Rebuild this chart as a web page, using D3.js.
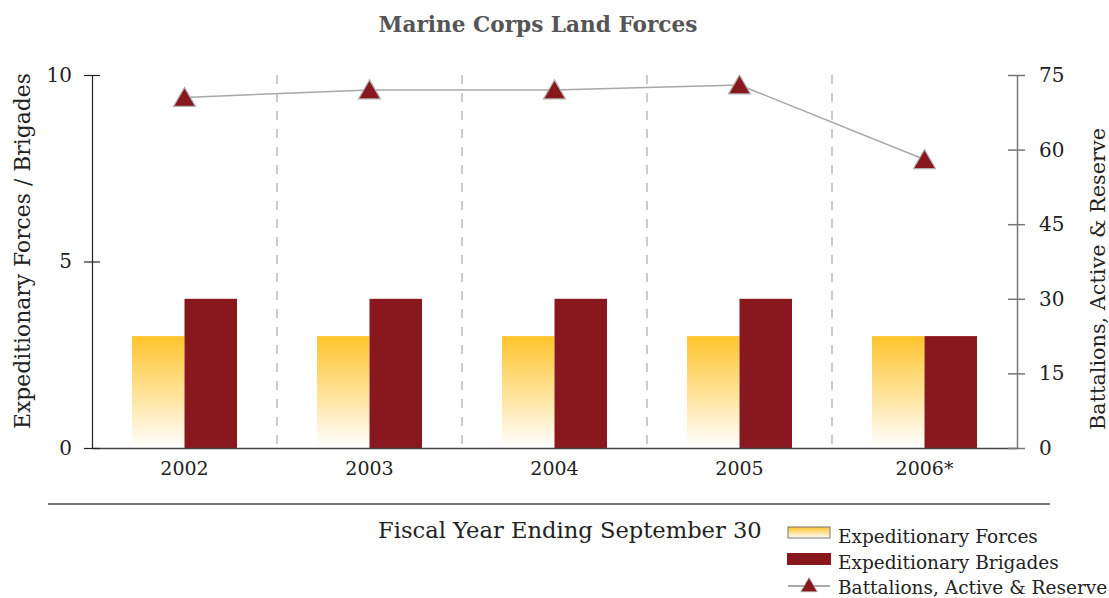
<!DOCTYPE html>
<html>
<head>
<meta charset="utf-8">
<script src="https://cdn.jsdelivr.net/npm/d3@7"></script>
<style>
  body { margin: 0; background: #fff; }
  svg { display: block; }
  text { font-family: "DejaVu Serif", "Liberation Serif", serif; fill: #222; }
</style>
</head>
<body>
<svg id="chart" width="1109" height="598"></svg>
<script>
const years = ["2002", "2003", "2004", "2005", "2006*"];
const expeditionaryForces = [3, 3, 3, 3, 3];
const expeditionaryBrigades = [4, 4, 4, 4, 3];
const battalions = [70.5, 72, 72, 73, 58];
const leftTicks = [0, 5, 10];
const rightTicks = [0, 15, 30, 45, 60, 75];

const svg = d3.select("#chart");
const m = { left: 92, right: 1017, top: 75, bottom: 448 };
const serif = "DejaVu Serif";

const x = d3.scaleBand().domain(years).range([m.left, m.right]).paddingInner(0).paddingOuter(0);
const yL = d3.scaleLinear().domain([0, 10]).range([m.bottom, m.top]);
const yR = d3.scaleLinear().domain([0, 75]).range([m.bottom, m.top]);

const defs = svg.append("defs");
const grad = defs.append("linearGradient").attr("id", "yellowGrad")
  .attr("x1", 0).attr("y1", 0).attr("x2", 0).attr("y2", 1);
grad.append("stop").attr("offset", "0%").attr("stop-color", "#FEC42C");
grad.append("stop").attr("offset", "100%").attr("stop-color", "#FFFFFF");

// fit helper: scale font so text spans target width
function fit(sel, target) {
  const node = sel.node();
  const fs = parseFloat(sel.style("font-size"));
  const w = node.getComputedTextLength();
  if (w > 0) sel.style("font-size", (fs * target / w).toFixed(2) + "px");
  return sel;
}

// Title
fit(svg.append("text").attr("x", 538).attr("y", 32).attr("text-anchor", "middle")
  .style("font-weight", "bold").style("font-size", "20px").style("fill", "#555")
  .text("Marine Corps Land Forces"), 319);

// Dashed separators
svg.append("g").selectAll("line").data(years.slice(1)).join("line")
  .attr("x1", d => x(d)).attr("x2", d => x(d))
  .attr("y1", m.top).attr("y2", m.bottom)
  .attr("stroke", "#aaa").attr("stroke-width", 1.2).attr("stroke-dasharray", "9,9");

// Bars
const bw = 52.5;
const g = svg.append("g");
g.selectAll("rect.ef").data(years).join("rect").attr("class", "ef")
  .attr("x", d => x(d) + x.bandwidth() / 2 - bw)
  .attr("width", bw)
  .attr("y", (d, i) => yL(expeditionaryForces[i]))
  .attr("height", (d, i) => yL(0) - yL(expeditionaryForces[i]))
  .attr("fill", "url(#yellowGrad)");
g.selectAll("rect.eb").data(years).join("rect").attr("class", "eb")
  .attr("x", d => x(d) + x.bandwidth() / 2)
  .attr("width", bw)
  .attr("y", (d, i) => yL(expeditionaryBrigades[i]))
  .attr("height", (d, i) => yL(0) - yL(expeditionaryBrigades[i]))
  .attr("fill", "#89181E");

// Line
const line = d3.line().x((d, i) => x(years[i]) + x.bandwidth() / 2).y(d => yR(d));
svg.append("path").datum(battalions).attr("d", line)
  .attr("fill", "none").attr("stroke", "#a8a8a8").attr("stroke-width", 1.5);

const tri = "M0,-10 L11,9 L-11,9 Z";
svg.append("g").selectAll("path").data(battalions).join("path")
  .attr("transform", (d, i) => `translate(${x(years[i]) + x.bandwidth() / 2},${yR(d)})`)
  .attr("d", tri).attr("fill", "#89181E").attr("stroke", "#b0b0b0").attr("stroke-width", 1.2);

// Bottom axis
const xAxis = svg.append("g").attr("transform", `translate(0,${m.bottom})`)
  .call(d3.axisBottom(x).tickSize(0).tickPadding(14));
xAxis.select(".domain").attr("stroke", "#444").attr("stroke-width", 1.5);
xAxis.selectAll("text").style("font-size", "19px").style("font-family", serif).attr("fill", "#222");

// Left axis
const la = svg.append("g").attr("transform", `translate(${m.left},0)`)
  .call(d3.axisLeft(yL).tickValues(leftTicks).tickSize(8).tickPadding(12).tickSizeOuter(0));
la.select(".domain").attr("stroke", "#222").attr("stroke-width", 1.2);
la.selectAll(".tick line").attr("x2", -8).attr("x1", 8).attr("stroke", "#222").attr("stroke-width", 1.2);
la.selectAll("text").style("font-size", "20px").style("font-family", serif).attr("fill", "#222");

// Right axis
const ra = svg.append("g").attr("transform", `translate(${m.right},0)`)
  .call(d3.axisRight(yR).tickValues(rightTicks).tickSize(8).tickPadding(14).tickSizeOuter(0));
ra.select(".domain").attr("stroke", "#777").attr("stroke-width", 1.5);
ra.selectAll(".tick line").attr("x1", -9).attr("x2", 8).attr("stroke", "#777").attr("stroke-width", 1.5);
ra.selectAll("text").style("font-size", "20px").style("font-family", serif).attr("fill", "#222");

// Axis titles
fit(svg.append("text").attr("transform", "translate(30,251) rotate(-90)")
  .attr("text-anchor", "middle").style("font-size", "20px")
  .text("Expeditionary Forces / Brigades"), 356);
fit(svg.append("text").attr("transform", "translate(1105,279) rotate(-90)")
  .attr("text-anchor", "middle").style("font-size", "20px")
  .text("Battalions, Active & Reserve"), 302);

// Separator rule
svg.append("line").attr("x1", 48).attr("x2", 1050).attr("y1", 504).attr("y2", 504)
  .attr("stroke", "#444").attr("stroke-width", 1.5);

fit(svg.append("text").attr("x", 378).attr("y", 538).style("font-size", "22px")
  .text("Fiscal Year Ending September 30"), 384);

// Legend
const lg = svg.append("g");
lg.append("rect").attr("x", 788).attr("y", 527).attr("width", 42).attr("height", 11)
  .attr("fill", "url(#yellowGrad)").attr("stroke", "#777").attr("stroke-width", 1);
lg.append("rect").attr("x", 787).attr("y", 553).attr("width", 44).attr("height", 12)
  .attr("fill", "#89181E");
lg.append("line").attr("x1", 788).attr("x2", 830).attr("y1", 586).attr("y2", 586)
  .attr("stroke", "#a8a8a8").attr("stroke-width", 2);
lg.append("path").attr("transform", "translate(809,585) scale(0.75)").attr("d", tri)
  .attr("fill", "#89181E").attr("stroke", "#b0b0b0").attr("stroke-width", 1);
const legendLabels = ["Expeditionary Forces", "Expeditionary Brigades", "Battalions, Active & Reserve"];
const lt = lg.selectAll("text.lt").data(legendLabels).join("text").attr("class", "lt")
  .attr("x", 838).attr("y", (d, i) => 543 + i * 25.5)
  .style("font-size", "17px").text(d => d);
fit(d3.select(lt.nodes()[0]), 200);
lt.style("font-size", d3.select(lt.nodes()[0]).style("font-size"));
</script>
</body>
</html>
